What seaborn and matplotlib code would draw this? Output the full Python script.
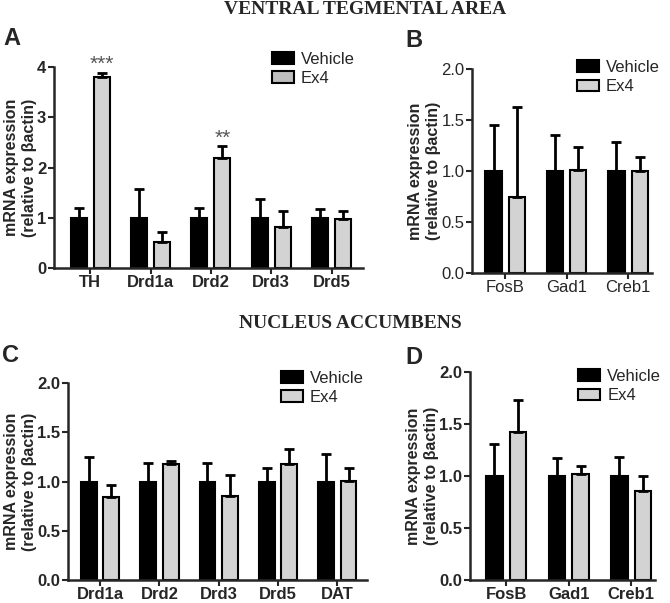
import numpy as np
import pandas as pd
import matplotlib
matplotlib.use('Agg')
import matplotlib.pyplot as plt
import seaborn as sns

# Panel A - VTA, dopamine genes
a_genes = ['TH', 'Drd1a', 'Drd2', 'Drd3', 'Drd5']
a_veh = [1.0, 1.0, 1.0, 1.0, 1.0]
a_veh_err = [0.20, 0.58, 0.20, 0.37, 0.18]
a_ex4 = [3.81, 0.52, 2.19, 0.81, 0.98]
a_ex4_err = [0.08, 0.19, 0.23, 0.33, 0.15]
a_stars = ['***', '', '**', '', '']

# Panel B - VTA, other genes
b_genes = ['FosB', 'Gad1', 'Creb1']
b_veh = [1.0, 1.0, 1.0]
b_veh_err = [0.45, 0.35, 0.28]
b_ex4 = [0.75, 1.01, 1.0]
b_ex4_err = [0.88, 0.23, 0.14]

# Panel C - NAc, dopamine genes
c_genes = ['Drd1a', 'Drd2', 'Drd3', 'Drd5', 'DAT']
c_veh = [1.0, 1.0, 1.0, 1.0, 1.0]
c_veh_err = [0.25, 0.19, 0.19, 0.14, 0.28]
c_ex4 = [0.84, 1.18, 0.85, 1.18, 1.01]
c_ex4_err = [0.12, 0.03, 0.22, 0.15, 0.13]

# Panel D - NAc, other genes
d_genes = ['FosB', 'Gad1', 'Creb1']
d_veh = [1.0, 1.0, 1.0]
d_veh_err = [0.31, 0.17, 0.18]
d_ex4 = [1.42, 1.02, 0.86]
d_ex4_err = [0.31, 0.08, 0.14]

groups = ['Vehicle', 'Ex4']
colors = {'Vehicle': 'black', 'Ex4': '#d3d3d3'}

sns.set_style('ticks')
plt.rcParams['font.family'] = ['Liberation Sans', 'DejaVu Sans']


def draw_panel(ax, genes, veh, veh_err, ex4, ex4_err, ylim, yticks, yfmt,
               xlim, leg_anchor, bold=True, stars=None, leg_gray=None):
    n = len(genes)
    df = pd.DataFrame({'gene': genes * 2,
                       'group': ['Vehicle'] * n + ['Ex4'] * n,
                       'value': veh + ex4})
    sns.barplot(data=df, x='gene', y='value', hue='group', hue_order=groups,
                palette=colors, width=0.76, gap=0.3, edgecolor='black',
                linewidth=1.5, errorbar=None, ax=ax)
    # upper-only error bars (SEM)
    for cont, err in zip(ax.containers, [veh_err, ex4_err]):
        xs = [b.get_x() + b.get_width() / 2 for b in cont]
        ys = [b.get_height() for b in cont]
        ax.errorbar(xs, ys, yerr=[np.zeros(n), err], fmt='none', ecolor='black',
                    elinewidth=2, capsize=3.5, capthick=2, zorder=1)
    if stars:
        cont = ax.containers[1]
        for b, s, e in zip(cont, stars, ex4_err):
            if s:
                ax.text(b.get_x() + b.get_width() / 2, b.get_height() + e + ylim[1] * 0.04,
                        s, ha='center', va='center', fontsize=15, color='#555555')

    weight = 'bold' if bold else 'normal'
    ax.set_ylim(*ylim)
    ax.set_xlim(*xlim)
    ax.set_yticks(yticks)
    ax.set_yticklabels([yfmt.format(t) for t in yticks], fontsize=12, fontweight=weight)
    ax.set_xticks(range(n))
    ax.set_xticklabels(genes, fontsize=12, fontweight=weight)
    ax.set_xlabel('')
    ax.set_ylabel('mRNA expression\n(relative to βactin)', fontsize=11.5,
                  fontweight='bold', labelpad=0, linespacing=1.25)
    sns.despine(ax=ax)
    for sp in ['left', 'bottom']:
        ax.spines[sp].set_linewidth(1.8)
    ax.tick_params(axis='y', direction='out', length=4, width=1.5, pad=1.5)
    ax.tick_params(axis='x', direction='out', length=4, width=1.5, pad=1)

    sns.move_legend(ax, 'upper left', bbox_to_anchor=leg_anchor, frameon=False,
                    title=None, fontsize=12, borderaxespad=0, borderpad=0,
                    handlelength=1.3, handleheight=0.7, handletextpad=0.45,
                    labelspacing=0.25)
    if leg_gray:
        ax.get_legend().legend_handles[1].set_facecolor(leg_gray)


fig = plt.figure(figsize=(6.7, 6.03), dpi=100)
ax_a = fig.add_axes([54 / 670, 1 - 268 / 603, 309 / 670, 201 / 603])
ax_b = fig.add_axes([472 / 670, 1 - 273 / 603, 180 / 670, 204 / 603])
ax_c = fig.add_axes([68 / 670, 1 - 580 / 603, 299 / 670, 197 / 603])
ax_d = fig.add_axes([470 / 670, 1 - 580 / 603, 185 / 670, 208 / 603])

draw_panel(ax_a, a_genes, a_veh, a_veh_err, a_ex4, a_ex4_err, (0, 4), [0, 1, 2, 3, 4],
           '{:.0f}', (-0.6, 4.52), (0.705, 1.075), bold=True, stars=a_stars,
           leg_gray='#bdbdbd')
draw_panel(ax_b, b_genes, b_veh, b_veh_err, b_ex4, b_ex4_err, (0, 2), [0, 0.5, 1, 1.5, 2],
           '{:.1f}', (-0.54, 2.39), (0.583, 1.044), bold=False)
draw_panel(ax_c, c_genes, c_veh, c_veh_err, c_ex4, c_ex4_err, (0, 2), [0, 0.5, 1, 1.5, 2],
           '{:.1f}', (-0.54, 4.5), (0.712, 1.061), bold=True)
draw_panel(ax_d, d_genes, d_veh, d_veh_err, d_ex4, d_ex4_err, (0, 2), [0, 0.5, 1, 1.5, 2],
           '{:.1f}', (-0.58, 2.38), (0.584, 1.014), bold=True)

serif = ['Liberation Serif', 'DejaVu Serif']
fig.text(365 / 670, 1 - 9 / 603, 'VENTRAL TEGMENTAL AREA', ha='center', va='center',
         fontsize=14, fontweight='bold', family=serif)
fig.text(350 / 670, 1 - 323 / 603, 'NUCLEUS ACCUMBENS', ha='center', va='center',
         fontsize=14, fontweight='bold', family=serif)

for lbl, x, y in [('A', 3, 27), ('B', 405, 29), ('C', 2, 344), ('D', 405, 346)]:
    fig.text(x / 670, 1 - y / 603, lbl, ha='left', va='top', fontsize=17, fontweight='bold')

fig.savefig('out.png', dpi=100)
